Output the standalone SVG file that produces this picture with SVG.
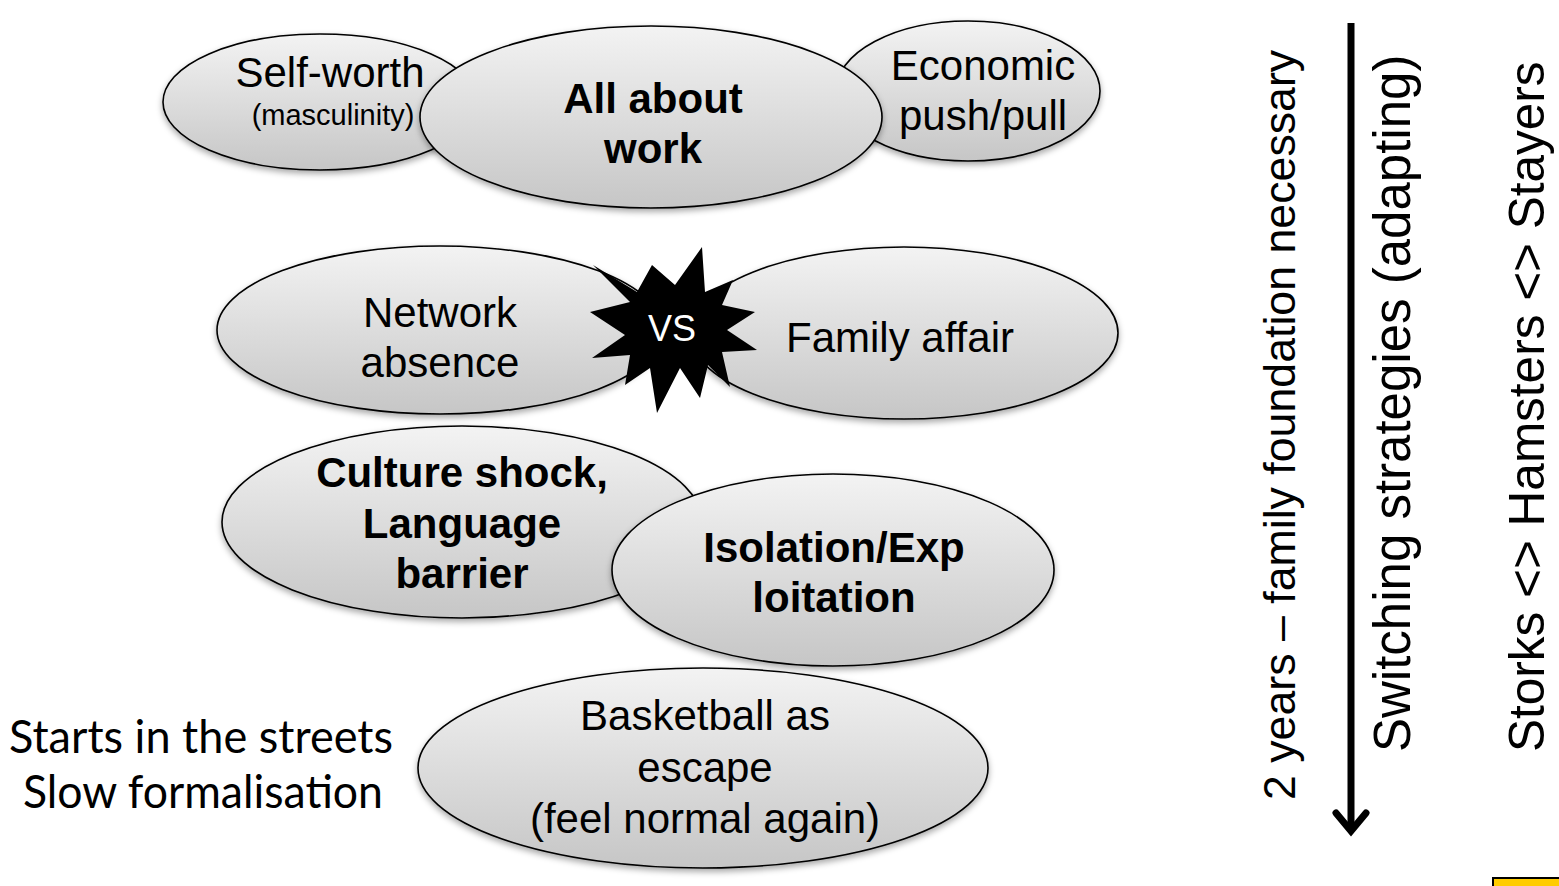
<svg xmlns="http://www.w3.org/2000/svg" width="1559" height="886" viewBox="0 0 1559 886">
<defs>
<linearGradient id="g" x1="0" y1="0" x2="0" y2="1">
<stop offset="0" stop-color="#f3f3f3"/>
<stop offset="1" stop-color="#c6c6c6"/>
</linearGradient>
<filter id="sh" x="-10%" y="-10%" width="120%" height="130%">
<feDropShadow dx="0" dy="3" stdDeviation="3" flood-color="#000" flood-opacity="0.35"/>
</filter>
</defs>
<style>
.e{fill:url(#g);stroke:#000;stroke-width:1.6;filter:url(#sh)}
.t{font-family:"Liberation Sans",Arial,sans-serif;font-size:42px;fill:#000;text-anchor:middle}
.b{font-weight:bold}
.s{font-size:29px}
.v{font-family:"Liberation Sans",Arial,sans-serif;fill:#000}
.c{font-family:Lato,"Open Sans",sans-serif;font-size:46px;fill:#000;text-anchor:middle}
</style>
<rect width="1559" height="886" fill="#fff"/>

<g id="self-worth">
<ellipse class="e" cx="320" cy="102" rx="157" ry="68"/>
<text class="t" x="330" y="87">Self-worth</text>
<text class="t s" x="333" y="125">(masculinity)</text>
</g>
<g id="economic">
<ellipse class="e" cx="968" cy="91" rx="132" ry="70"/>
<text class="t" x="983" y="80">Economic</text>
<text class="t" x="983" y="130">push/pull</text>
</g>
<g id="all-about-work">
<ellipse class="e" cx="651" cy="117" rx="231" ry="91"/>
<text class="t b" x="653" y="113">All about</text>
<text class="t b" x="653" y="163">work</text>
</g>

<g id="network-absence">
<ellipse class="e" cx="440" cy="330" rx="223" ry="84"/>
<text class="t" x="440" y="327">Network</text>
<text class="t" x="440" y="377">absence</text>
</g>
<g id="family-affair">
<ellipse class="e" cx="904" cy="333" rx="214" ry="86"/>
<text class="t" x="900" y="352">Family affair</text>
</g>
<g id="vs">
<polygon fill="#000" points="593,265 637,292 652,265 675,285 702,247 705,292 733,280 722,305 755,312 727,330 757,350 722,352 730,387 708,365 700,398 680,368 657,413 650,368 625,385 630,355 592,358 625,335 590,312 630,302"/>
<text class="t" x="672" y="341" style="fill:#fff;font-size:36px">VS</text>
</g>

<g id="basketball">
<ellipse class="e" cx="703" cy="768" rx="285" ry="100"/>
<text class="t" x="705" y="730">Basketball as</text>
<text class="t" x="705" y="782">escape</text>
<text class="t" x="705" y="833">(feel normal again)</text>
</g>
<g id="culture-shock">
<ellipse class="e" cx="462" cy="522" rx="240" ry="96"/>
<text class="t b" x="462" y="487">Culture shock,</text>
<text class="t b" x="462" y="538">Language</text>
<text class="t b" x="462" y="588">barrier</text>
</g>
<g id="isolation">
<ellipse class="e" cx="833" cy="570" rx="221" ry="96"/>
<text class="t b" x="834" y="562">Isolation/Exp</text>
<text class="t b" x="834" y="612">loitation</text>
</g>

<g id="streets">
<text class="c" x="201" y="753" textLength="384" lengthAdjust="spacingAndGlyphs">Starts in the streets</text>
<text class="c" x="203" y="808" textLength="360" lengthAdjust="spacingAndGlyphs">Slow formalisation</text>
</g>

<g id="connectors">
<line x1="1351" y1="23" x2="1351" y2="828" stroke="#000" stroke-width="7"/>
<path d="M1336,813 L1351,831 L1366,813" fill="none" stroke="#000" stroke-width="7" stroke-linecap="round" stroke-linejoin="miter"/>
</g>

<g id="timeline-labels">
<text class="v" font-size="44.7" transform="translate(1295,800) rotate(-90)">2 years – family foundation necessary</text>
<text class="v" font-size="51" transform="translate(1410,752) rotate(-90)">Switching strategies (adapting)</text>
<text class="v" font-size="49.5" transform="translate(1544,752) rotate(-90)">Storks &lt;&gt; Hamsters &lt;&gt; Stayers</text>
</g>

<rect x="1493" y="878" width="80" height="20" fill="#ffcc00" stroke="#000" stroke-width="2"/>
</svg>
